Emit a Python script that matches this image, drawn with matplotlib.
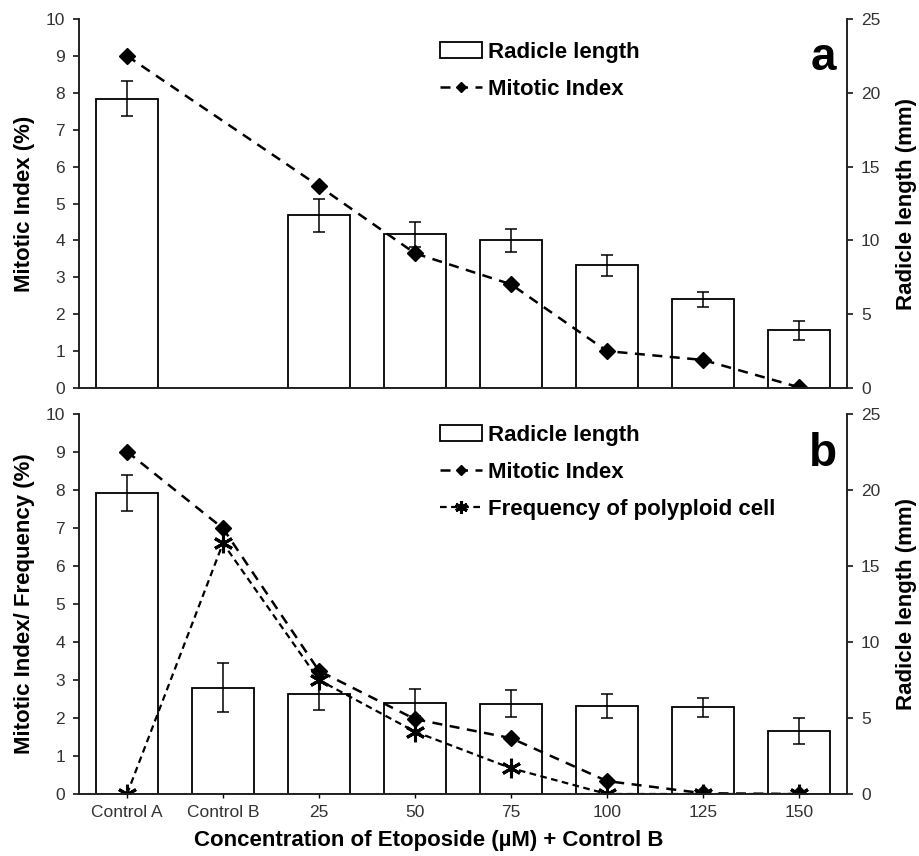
import numpy as np
import matplotlib
matplotlib.use("Agg")
import matplotlib.pyplot as plt

plt.rcParams['font.family'] = ['Liberation Sans', 'DejaVu Sans']

categories = ["Control A", "Control B", "25", "50", "75", "100", "125", "150"]

# panel a
radicle_a = [19.6, np.nan, 11.7, 10.4, 10.0, 8.3, 6.0, 3.9]
radicle_a_err = [1.2, np.nan, 1.1, 0.85, 0.8, 0.68, 0.5, 0.65]
mitotic_a = [9.0, np.nan, 5.47, 3.65, 2.81, 1.0, 0.76, 0.02]

# panel b
radicle_b = [19.8, 7.0, 6.6, 6.0, 5.95, 5.8, 5.7, 4.15]
radicle_b_err = [1.2, 1.6, 1.1, 0.9, 0.88, 0.8, 0.62, 0.88]
mitotic_b = [9.01, 6.99, 3.24, 1.97, 1.47, 0.34, 0.02, 0.0]
polyploid_b = [0.0, 6.6, 3.0, 1.64, 0.68, 0.0, 0.0, 0.0]

x = np.arange(len(categories))
W, H = 919, 856

fig = plt.figure(figsize=(W / 100, H / 100), dpi=100)


def make_panel(box, radicle, radicle_err, lines, letter, legend_top, show_x):
    left, top, right, bottom = box
    ax = fig.add_axes([left / W, 1 - bottom / H, (right - left) / W, (bottom - top) / H])
    ax2 = ax.twinx()
    ax.set_zorder(ax2.get_zorder() + 1)
    ax.patch.set_visible(False)

    r = np.array(radicle, dtype=float)
    e = np.array(radicle_err, dtype=float)
    m = np.isfinite(r)
    bars = ax2.bar(x[m], r[m], width=0.65, color='white', edgecolor='black', linewidth=1.3)
    ax2.errorbar(x[m], r[m], yerr=e[m], fmt='none', ecolor='black', elinewidth=1.1,
                 capsize=4, capthick=1.1)

    handles = [bars]
    labels = ["Radicle length"]
    for vals, style, lab in lines:
        v = np.array(vals, dtype=float)
        mm = np.isfinite(v)
        ln, = ax.plot(x[mm], v[mm], **style)
        handles.append(ln)
        labels.append(lab)

    ax.set_xlim(-0.5, 7.5)
    ax.set_ylim(0, 10)
    ax.set_yticks(range(0, 11))
    ax2.set_ylim(0, 25)
    ax2.set_yticks(range(0, 26, 5))

    for a in (ax, ax2):
        a.spines['top'].set_visible(False)
        for s in a.spines.values():
            s.set_linewidth(1.2)
            s.set_color('#222222')
    ax.tick_params(axis='y', direction='out', length=4, width=1.1, labelsize=12.5,
                   labelcolor='#333333', pad=6)
    ax2.tick_params(axis='y', direction='out', length=4, width=1.1, labelsize=12.5,
                    labelcolor='#333333', pad=6)
    if show_x:
        ax.set_xticks(x)
        ax.set_xticklabels(categories)
        ax.tick_params(axis='x', direction='out', length=3, width=1, labelsize=12.5,
                       labelcolor='#333333', pad=5)
    else:
        ax.set_xticks([])

    ax.text(0.969, 0.895, letter, transform=ax.transAxes, fontsize=33, fontweight='bold',
            ha='center', va='center')

    ax.legend(handles, labels, loc='upper left', bbox_to_anchor=(440 / W, 1 - legend_top / H),
              bbox_transform=fig.transFigure, frameon=False,
              prop={'weight': 'bold', 'size': 16}, borderpad=0, borderaxespad=0,
              handlelength=1.9, handletextpad=0.27, labelspacing=0.72, markerscale=0.65)
    return ax, ax2


mi_style = dict(color='black', linestyle=(0, (4, 3)), linewidth=1.8, marker='D',
                markersize=8, markerfacecolor='black', markeredgecolor='black')
pp_style = dict(color='black', linestyle=(0, (3, 2)), linewidth=1.6, marker=(6, 2, 0),
                markersize=14, markeredgewidth=2.2, markeredgecolor='black')

axa, axa2 = make_panel((79, 19, 847, 388), radicle_a, radicle_a_err,
                       [(mitotic_a, mi_style, "Mitotic Index")], "a", 42, False)
axa.set_ylabel("Mitotic Index (%)", fontsize=16, fontweight='bold', labelpad=8)
axa2.set_ylabel("Radicle length (mm)", fontsize=16, fontweight='bold', labelpad=11)

axb, axb2 = make_panel((79, 414, 847, 794), radicle_b, radicle_b_err,
                       [(mitotic_b, mi_style, "Mitotic Index"),
                        (polyploid_b, pp_style, "Frequency of polyploid cell")], "b", 425, True)
axb.set_ylabel("Mitotic Index/ Frequency (%)", fontsize=16, fontweight='bold', labelpad=8)
axb2.set_ylabel("Radicle length (mm)", fontsize=16, fontweight='bold', labelpad=11)
axb.set_xlabel("Concentration of Etoposide (\u00b5M) + Control B", fontsize=16,
               fontweight='bold', labelpad=8)
axb.xaxis.set_label_coords(0.456, -0.095)

fig.savefig("out.png", dpi=100)
